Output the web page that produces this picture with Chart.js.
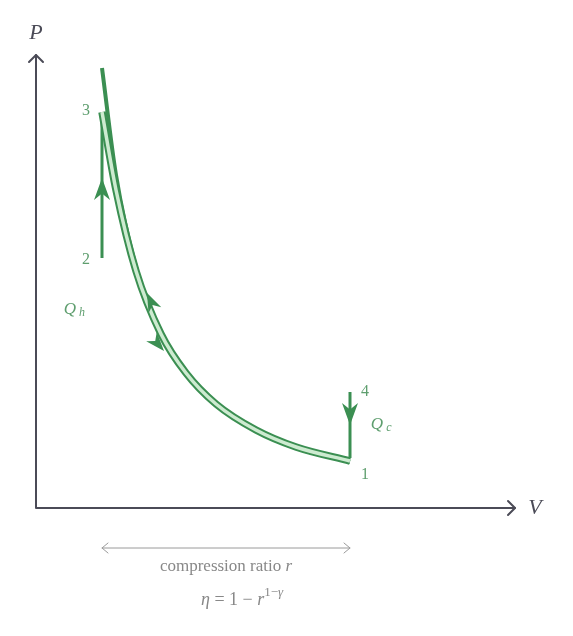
<!DOCTYPE html>
<html><head><meta charset="utf-8">
<script src="https://cdn.jsdelivr.net/npm/chart.js@4"></script>
<style>html,body{margin:0;padding:0;background:#fff}#c{width:573px;height:636px}</style>
</head><body><div id="c"><canvas id="cv"></canvas></div>
<script>
// volume (x) and pressure (y) in chart units
const volA = [66, 80, 100, 125, 150, 180, 220, 260, 314];
const presA = [440, 333, 241, 174, 134, 103, 77, 60, 46];
const volB = [66, 80, 100, 125, 150, 180, 220, 260, 314];
const presB = [396, 318, 237, 174, 135, 104, 78, 61, 47];
const heatIn = {v: [66, 66], p: [250, 396]};
const heatOut = {v: [314, 314], p: [116, 50]};
const stateLabels = [
  {t: '3', v: 50, p: 397}, {t: '2', v: 50, p: 248},
  {t: '4', v: 329, p: 116}, {t: '1', v: 329, p: 33}
];
const DARK = '#3b8f52', LIGHT = '#cdebd0', TXT = '#5e9e6e', AX = '#4b4b57';
const pts = (xs, ys) => xs.map((x, i) => ({x, y: ys[i]}));

function arrow(ctx, x, y, ang, len, wid) {
  ctx.save(); ctx.translate(x, y); ctx.rotate(ang);
  ctx.beginPath(); ctx.moveTo(0, 0); ctx.lineTo(-len, wid); ctx.lineTo(-len * 0.7, 0); ctx.lineTo(-len, -wid); ctx.closePath();
  ctx.fillStyle = DARK; ctx.fill(); ctx.restore();
}
const deco = {
  id: 'deco',
  afterDatasetsDraw(ch) {
    const ctx = ch.ctx, X = ch.scales.x, Y = ch.scales.y;
    const px = v => X.getPixelForValue(v), py = p => Y.getPixelForValue(p);
    const ox = px(0), oy = py(0);
    ctx.save();
    ctx.strokeStyle = AX; ctx.lineWidth = 2; ctx.lineCap = 'round'; ctx.lineJoin = 'round';
    ctx.beginPath(); ctx.moveTo(ox, oy); ctx.lineTo(px(479), oy); ctx.moveTo(ox, oy); ctx.lineTo(ox, py(453)); ctx.stroke();
    ctx.beginPath(); ctx.moveTo(px(479) - 7, oy - 7); ctx.lineTo(px(479), oy); ctx.lineTo(px(479) - 7, oy + 7);
    ctx.moveTo(ox - 7, py(453) + 7); ctx.lineTo(ox, py(453)); ctx.lineTo(ox + 7, py(453) + 7); ctx.stroke();
    ctx.fillStyle = AX; ctx.font = 'italic 22px "Liberation Serif"'; ctx.textAlign = 'center'; ctx.textBaseline = 'middle';
    ctx.fillText('P', ox, py(475)); ctx.fillText('V', px(499), oy);
    arrow(ctx, px(66), py(330), -Math.PI / 2, 22, 8);
    arrow(ctx, px(314), py(83), Math.PI / 2, 22, 8);
    arrow(ctx, px(111), py(215), -2.0, 19, 7);
    arrow(ctx, px(128), py(157), 0.85, 19, 7);
    ctx.fillStyle = TXT; ctx.font = '16px "Liberation Serif"';
    stateLabels.forEach(s => ctx.fillText(s.t, px(s.v), py(s.p)));
    ctx.font = 'italic 17px "Liberation Serif"';
    ctx.fillText('Q', px(34), py(198)); ctx.fillText('Q', px(341), py(83));
    ctx.font = 'italic 12px "Liberation Serif"';
    ctx.fillText('h', px(46), py(195)); ctx.fillText('c', px(353), py(80));
    const ya = py(-40);
    ctx.strokeStyle = '#9a9a9a'; ctx.lineWidth = 1;
    ctx.beginPath(); ctx.moveTo(px(66), ya); ctx.lineTo(px(314), ya);
    ctx.moveTo(px(66) + 6, ya - 5); ctx.lineTo(px(66), ya); ctx.lineTo(px(66) + 6, ya + 5);
    ctx.moveTo(px(314) - 6, ya - 5); ctx.lineTo(px(314), ya); ctx.lineTo(px(314) - 6, ya + 5); ctx.stroke();
    ctx.fillStyle = '#888'; ctx.textAlign = 'left';
    const t1 = 'compression ratio ';
    ctx.font = '17px "Liberation Serif"'; let w1 = ctx.measureText(t1).width;
    ctx.font = 'italic 17px "Liberation Serif"'; let w2 = ctx.measureText('r').width;
    let sx = px(190) - (w1 + w2) / 2;
    ctx.font = '17px "Liberation Serif"'; ctx.fillText(t1, sx, py(-59));
    ctx.font = 'italic 17px "Liberation Serif"'; ctx.fillText('r', sx + w1, py(-59));
    const yb = py(-92); let x = px(165);
    const seg = (t, f, dy) => { ctx.font = f; ctx.fillText(t, x, yb + (dy || 0)); x += ctx.measureText(t).width; };
    seg('η', 'italic 18px "Liberation Serif"'); seg(' = 1 − ', '18px "Liberation Serif"'); seg('r', 'italic 18px "Liberation Serif"');
    seg('1−', '13px "Liberation Serif"', -7); seg('γ', 'italic 13px "Liberation Serif"', -7);
    ctx.restore();
  }
};
const line = (d, c, w, o) => ({data: d, order: o, showLine: true, borderColor: c, borderWidth: w, pointRadius: 0, fill: false, cubicInterpolationMode: 'monotone'});
new Chart(document.getElementById('cv'), {
  type: 'scatter',
  data: {datasets: [
    line(pts(volA, presA), DARK, 4, 5), line(pts(volB, presB), DARK, 7.5, 4),
    line(pts(volB, presB), LIGHT, 3.5, 1),
    line(pts(heatIn.v, heatIn.p), DARK, 3, 3), line(pts(heatOut.v, heatOut.p), DARK, 3, 3)
  ]},
  options: {
    responsive: true, maintainAspectRatio: false, animation: false,
    layout: {padding: {left: 36, right: 58, top: 55, bottom: 128}},
    plugins: {legend: {display: false}, tooltip: {enabled: false}},
    scales: {
      x: {type: 'linear', min: 0, max: 479, display: false},
      y: {type: 'linear', min: 0, max: 453, display: false}
    }
  },
  plugins: [deco]
});
</script></body></html>
